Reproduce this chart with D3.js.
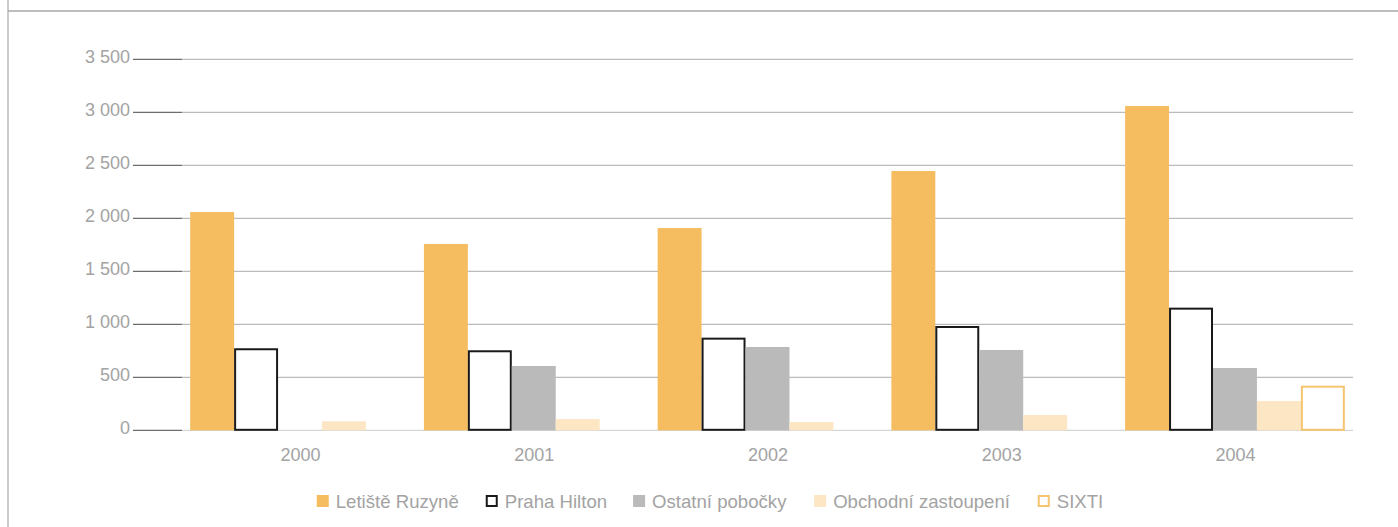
<!DOCTYPE html>
<html>
<head>
<meta charset="utf-8">
<script src="https://cdn.jsdelivr.net/npm/d3@7"></script>
<style>
  body { margin: 0; background: #fff; }
  svg { display: block; font-family: "Liberation Sans", Arial, sans-serif; }
  .lbl { fill: #a3a3a3; font-size: 18px; }
  .leg { fill: #a3a3a3; font-size: 18.6px; }
</style>
</head>
<body>
<div id="chart"></div>
<script>
// Data.
const years = ["2000", "2001", "2002", "2003", "2004"];
const series = ["Letiště Ruzyně", "Praha Hilton", "Ostatní pobočky", "Obchodní zastoupení", "SIXTI"];
const letiste = [2059, 1758, 1908, 2446, 3059];
const hilton  = [774, 755, 874, 984, 1157];
const ostatni = [0, 607, 786, 758, 588];
const obchodni = [85, 106, 78, 144, 276];
const sixti   = [0, 0, 0, 0, 421];
const yTicks = [0, 500, 1000, 1500, 2000, 2500, 3000, 3500];

const values = [letiste, hilton, ostatni, obchodni, sixti];

// Look of each series.
const styles = {
  "Letiště Ruzyně":      { fill: "#f5bd60", stroke: null },
  "Praha Hilton":        { fill: "#fff",    stroke: "#1a1a1a" },
  "Ostatní pobočky":     { fill: "#bababa", stroke: null },
  "Obchodní zastoupení": { fill: "#fde6c3", stroke: null },
  "SIXTI":               { fill: "#fff",    stroke: "#f5c470" }
};

const W = 1398, H = 527;
const plot = { left: 182, right: 1353, top: 20, bottom: 430.3 };

const svg = d3.select("#chart").append("svg")
  .attr("width", W)
  .attr("height", H);

// Frame lines (left and top).
svg.append("line")
  .attr("x1", 8).attr("x2", 8).attr("y1", 0).attr("y2", H)
  .attr("stroke", "#a8a8a8").attr("stroke-width", 1.2);
svg.append("line")
  .attr("x1", 8).attr("x2", W).attr("y1", 11).attr("y2", 11)
  .attr("stroke", "#a8a8a8").attr("stroke-width", 1.4);

// Scales
const y = d3.scaleLinear()
  .domain([0, 3500])
  .range([plot.bottom, 59.3]);

const x0 = d3.scaleBand()
  .domain(years)
  .range([plot.left, plot.right])
  .paddingInner(0.06)
  .paddingOuter(0.035);

const x1 = d3.scaleBand()
  .domain(series)
  .range([0, x0.bandwidth()]);

const fmt = d3.formatLocale({ decimal: ",", thousands: "\u00a0", grouping: [3], currency: ["", ""] }).format(",d");

// Gridlines and tick stubs.
const grid = svg.append("g");
grid.selectAll("line.grid")
  .data(yTicks)
  .join("line")
  .attr("class", "grid")
  .attr("x1", plot.left).attr("x2", plot.right)
  .attr("y1", d => y(d)).attr("y2", d => y(d))
  .attr("stroke", d => d === 0 ? "#cccccc" : "#aaaaaa")
  .attr("stroke-width", 1);
grid.selectAll("line.stub")
  .data(yTicks)
  .join("line")
  .attr("class", "stub")
  .attr("x1", 133).attr("x2", plot.left)
  .attr("y1", d => y(d)).attr("y2", d => y(d))
  .attr("stroke", "#6e6e6e")
  .attr("stroke-width", 1.2);
grid.selectAll("text")
  .data(yTicks)
  .join("text")
  .attr("class", "lbl")
  .attr("x", 130)
  .attr("y", d => y(d) + 3.5)
  .attr("text-anchor", "end")
  .text(d => fmt(d));

// Bars
const groups = svg.append("g")
  .selectAll("g")
  .data(years)
  .join("g")
  .attr("transform", d => "translate(" + x0(d) + ",0)");

groups.selectAll("rect")
  .data((d, i) => series.map((s, j) => ({ s: s, v: values[j][i] })).filter(o => o.v > 0))
  .join("rect")
  .each(function(d) {
    const st = styles[d.s];
    const r = d3.select(this);
    if (st.stroke) {
      r.attr("x", x1(d.s) + 1)
        .attr("width", x1.bandwidth() - 2)
        .attr("y", y(d.v) + 1)
        .attr("height", y(0) - y(d.v) - 1.5)
        .attr("fill", st.fill)
        .attr("stroke", st.stroke)
        .attr("stroke-width", 2);
    } else {
      r.attr("x", x1(d.s))
        .attr("width", x1.bandwidth())
        .attr("y", y(d.v))
        .attr("height", y(0) - y(d.v))
        .attr("fill", st.fill);
    }
  });

// Category labels.
svg.append("g")
  .selectAll("text")
  .data(years)
  .join("text")
  .attr("class", "lbl")
  .attr("x", d => x0(d) + x0.bandwidth() / 2 + 0.5)
  .attr("y", 461)
  .attr("text-anchor", "middle")
  .text(d => d);

// Legend
const legend = svg.append("g");
const items = legend.selectAll("g")
  .data(series)
  .join("g");
items.append("rect")
  .attr("x", d => styles[d].stroke ? 1 : 0)
  .attr("y", d => styles[d].stroke ? 496 : 495)
  .attr("width", d => styles[d].stroke ? 10 : 12)
  .attr("height", d => styles[d].stroke ? 10 : 12)
  .attr("fill", d => styles[d].fill)
  .attr("stroke", d => styles[d].stroke)
  .attr("stroke-width", 2);
items.append("text")
  .attr("class", "leg")
  .attr("x", 19)
  .attr("y", 507.5)
  .text(d => d);

let lx = 0;
items.each(function() {
  d3.select(this).attr("transform", "translate(" + lx + ",0)");
  lx += this.getBBox().width + 27;
});
const legW = lx - 27;
legend.attr("transform", "translate(" + (709.5 - legW / 2) + ",0)");
</script>
</body>
</html>
